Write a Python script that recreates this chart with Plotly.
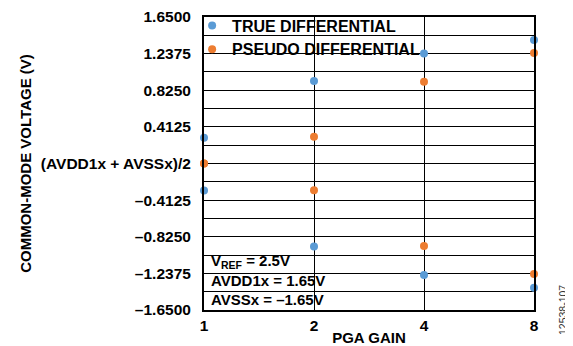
import plotly.graph_objects as go

# ---- data ----
gain = ["1", "2", "4", "8"]
true_upper = [0.29, 0.93, 1.24, 1.39]
true_lower = [-0.305, -0.935, -1.255, -1.40]
pseudo_upper = [0.0, 0.30, 0.92, 1.245]
pseudo_lower = [0.0, -0.30, -0.93, -1.245]

ytick_vals = [1.65, 1.2375, 0.825, 0.4125, 0.0, -0.4125, -0.825, -1.2375, -1.65]
ytick_text = ["1.6500", "1.2375", "0.8250", "0.4125", "(AVDD1x + AVSSx)/2",
              "\u20130.4125", "\u20130.8250", "\u20131.2375", "\u20131.6500"]

BLUE = "#5B9BD5"
ORANGE = "#ED7D31"
FONT = "Liberation Sans, Arial, sans-serif"

fig = go.Figure()
fig.add_trace(go.Scatter(x=gain + gain, y=true_upper + true_lower, mode="markers",
                         name="<b>TRUE DIFFERENTIAL</b>", cliponaxis=False,
                         marker=dict(color=BLUE, size=8)))
fig.add_trace(go.Scatter(x=gain + gain, y=pseudo_upper + pseudo_lower, mode="markers",
                         name="<b>PSEUDO DIFFERENTIAL</b>", cliponaxis=False,
                         marker=dict(color=ORANGE, size=8)))

# white boxes behind legend and note (above gridlines, below traces)
fig.add_shape(type="rect", xref="paper", yref="paper", x0=0, x1=0.655, y0=0.872, y1=1,
              fillcolor="white", line=dict(width=0), layer="between")
fig.add_shape(type="rect", xref="paper", yref="paper", x0=0, x1=0.406, y0=0, y1=0.19,
              fillcolor="white", line=dict(width=0), layer="between")

fig.add_annotation(text="<b>V<sub>REF</sub> = 2.5V<br>AVDD1x = 1.65V<br>AVSSx = \u20131.65V</b>",
                   xref="paper", yref="paper", x=0.015, y=0.0, align="left",
                   xanchor="left", yanchor="bottom", showarrow=False,
                   font=dict(family=FONT, size=15, color="black"))

fig.add_annotation(text="12538-107", xref="paper", yref="paper", x=1.088, y=0.0,
                   textangle=-90, showarrow=False, xanchor="center", yanchor="middle",
                   font=dict(family="Arial", size=10.5, color="#333", weight="normal"))

# page body has an 8px margin, so margins are shifted by -8 px
fig.update_layout(
    width=573, height=346,
    margin=dict(l=196, r=47, t=9, b=44, autoexpand=False),
    paper_bgcolor="white", plot_bgcolor="white",
    font=dict(family=FONT, size=15, color="black", weight="bold"),
    showlegend=True,
    legend=dict(x=-0.036, y=0.93, xanchor="left", yanchor="middle",
                bgcolor="rgba(0,0,0,0)", borderwidth=0,
                font=dict(family=FONT, size=16, color="black", weight="bold")),
    xaxis=dict(type="category", range=[0, 3], showgrid=True, gridcolor="black",
               gridwidth=1, showline=True, linecolor="black", linewidth=2, mirror=True,
               ticks="", tickfont=dict(size=15.5), automargin=False,
               ticklabeloverflow="allow",
               title=dict(text="PGA GAIN", font=dict(size=15), standoff=0)),
    yaxis=dict(range=[-1.65, 1.65], tickvals=ytick_vals, ticktext=ytick_text,
               showgrid=True, gridcolor="black", gridwidth=1, zeroline=False,
               showline=True, linecolor="black", linewidth=2, mirror=True,
               ticks="", ticklabelstandoff=8, tickfont=dict(size=15.5), automargin=False,
               ticklabeloverflow="allow",
               minor=dict(dtick=0.20625, tick0=0, showgrid=True, gridcolor="black",
                          gridwidth=1),
               title=dict(text="COMMON-MODE VOLTAGE (V)", font=dict(size=15), standoff=6)),
)

fig.write_html("out.html")
